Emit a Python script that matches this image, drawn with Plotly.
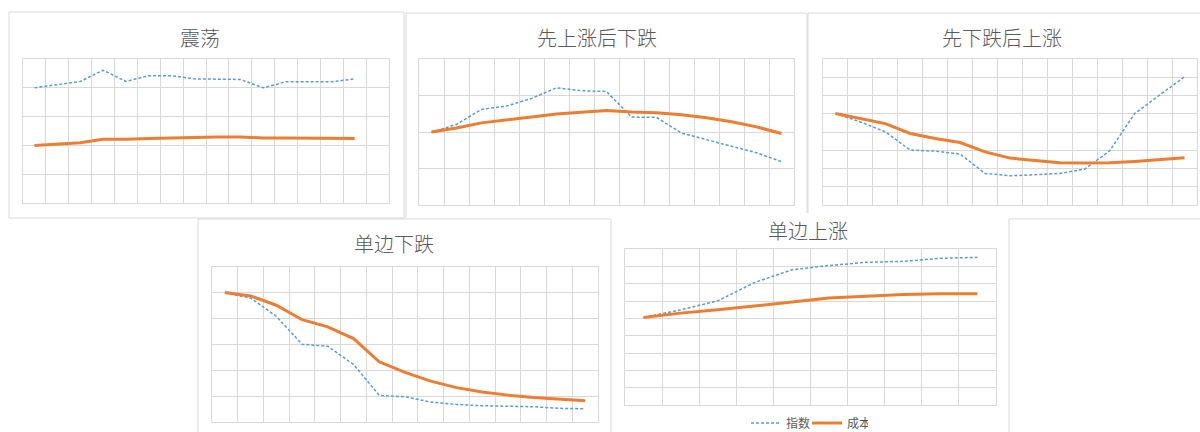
import plotly.graph_objects as go

W, H = 1200, 432

# ---------------- data (grid units) ----------------
titles = ["震荡", "先上涨后下跌", "先下跌后上涨", "单边下跌", "单边上涨"]
series_names = ["指数", "成本"]

zhendang_index = [4.00, 4.12, 4.22, 4.61, 4.22, 4.42, 4.42, 4.31, 4.29, 4.29, 4.00, 4.21, 4.21, 4.21, 4.31]
zhendang_cost = [2.00, 2.04, 2.09, 2.21, 2.21, 2.24, 2.26, 2.29, 2.29, 2.29, 2.26, 2.26, 2.25, 2.25, 2.24]

rise_fall_index = [1.99, 2.21, 2.62, 2.71, 2.92, 3.21, 3.13, 3.11, 2.41, 2.40, 1.97, 1.79, 1.62, 1.43, 1.19]
rise_fall_cost = [2.00, 2.11, 2.25, 2.34, 2.41, 2.49, 2.54, 2.59, 2.55, 2.53, 2.47, 2.39, 2.28, 2.14, 1.96]

fall_rise_index = [5.01, 4.55, 4.01, 3.01, 2.95, 2.79, 1.73, 1.60, 1.66, 1.73, 1.97, 2.97, 5.01, 6.01, 7.03]
fall_rise_cost = [5.01, 4.75, 4.46, 3.92, 3.64, 3.42, 2.91, 2.57, 2.42, 2.31, 2.30, 2.31, 2.39, 2.48, 2.59]

down_index = [4.99, 4.80, 4.09, 3.01, 2.93, 2.23, 1.03, 0.98, 0.77, 0.68, 0.63, 0.60, 0.59, 0.53, 0.51]
down_cost = [5.01, 4.88, 4.52, 3.96, 3.68, 3.23, 2.33, 1.92, 1.58, 1.33, 1.16, 1.04, 0.95, 0.88, 0.82]

up_index = [5.05, 5.49, 6.01, 7.07, 7.80, 8.05, 8.23, 8.29, 8.46, 8.52]
up_cost = [5.05, 5.30, 5.49, 5.72, 5.97, 6.17, 6.28, 6.38, 6.42, 6.42]

category_counts = [16, 15, 15, 15, 10]
y_grid_counts = [5, 4, 8, 6, 9]

# ---------------- layout helpers ----------------
def px_x(v):
    return v / W

def px_y(v):
    return 1 - v / H

# plot areas in pixels: (left, top, right, bottom)
plot_boxes = [
    (23, 59, 389, 203),
    (419, 59, 794, 205),
    (823, 59, 1197, 205),
    (212, 267, 598, 422),
    (625, 249, 996, 405),
]
title_pos = [(200, 37), (597, 37), (1002, 37), (394, 244), (808, 230)]

BLUE = "#5B9BD5"
ORANGE = "#ED7D31"
GRID = "#D9D9D9"
TEXT = "#595959"
FONT = "Noto Sans CJK SC"

data_sets = [
    (zhendang_index, zhendang_cost),
    (rise_fall_index, rise_fall_cost),
    (fall_rise_index, fall_rise_cost),
    (down_index, down_cost),
    (up_index, up_cost),
]

fig = go.Figure()
layout_axes = {}
for i, ((idx, cost), box, ncat, ngrid) in enumerate(zip(data_sets, plot_boxes, category_counts, y_grid_counts)):
    k = "" if i == 0 else str(i + 1)
    xa, ya = "x" + k, "y" + k
    cats = list(range(1, len(idx) + 1))
    last = i == 4
    fig.add_trace(go.Scatter(x=cats, y=idx, mode="lines", name=series_names[0],
                             line=dict(color=BLUE, width=1.5, dash="3px,2px"),
                             xaxis=xa, yaxis=ya, showlegend=last, legendrank=1))
    fig.add_trace(go.Scatter(x=cats, y=cost, mode="lines", name=series_names[1],
                             line=dict(color=ORANGE, width=3),
                             xaxis=xa, yaxis=ya, showlegend=last, legendrank=2))
    l, t, r, b = box
    common = dict(showgrid=True, gridcolor=GRID, gridwidth=1, zeroline=False,
                  showticklabels=False, ticks="", showline=True, mirror=True,
                  linecolor=GRID, linewidth=1, fixedrange=True)
    layout_axes["xaxis" + k] = dict(domain=[px_x(l), px_x(r)], range=[0.5, ncat + 0.5],
                                    tick0=0.5, dtick=1, anchor=ya, **common)
    layout_axes["yaxis" + k] = dict(domain=[px_y(b), px_y(t)], range=[0, ngrid],
                                    tick0=0, dtick=1, anchor=xa, **common)

fig.update_layout(**layout_axes)

annotations = []
for title, (cx, cy) in zip(titles, title_pos):
    annotations.append(dict(text=title, x=px_x(cx), y=px_y(cy), xref="paper", yref="paper",
                            xanchor="center", yanchor="middle", showarrow=False,
                            font=dict(family=FONT, size=20, color=TEXT, weight=300)))

def path(points):
    s = ""
    for j, (x, y) in enumerate(points):
        s += ("M" if j == 0 else "L") + f"{px_x(x):.5f},{px_y(y):.5f} "
    return s.strip()

frames = [
    [(9, 12), (404, 12), (404, 218), (9, 218), (9, 12)],
    [(406, 218), (406, 13), (807, 13), (807, 213)],
    [(808, 213), (808, 13), (1215, 13)],
    [(198, 445), (198, 219), (611, 219), (611, 445)],
    [(1009, 445), (1009, 219), (1215, 219)],
]
shapes = [dict(type="path", path=path(f), xref="paper", yref="paper",
               line=dict(color=GRID, width=1), layer="below") for f in frames]

fig.update_layout(
    width=W, height=H, autosize=False,
    margin=dict(l=0, r=0, t=0, b=0, autoexpand=False),
    paper_bgcolor="white", plot_bgcolor="white",
    annotations=annotations, shapes=shapes,
    showlegend=True,
    legend=dict(orientation="h", x=px_x(746), xanchor="left", y=px_y(423), yanchor="middle",
                font=dict(family=FONT, size=12, color=TEXT), bgcolor="rgba(0,0,0,0)",
                itemwidth=30, tracegroupgap=0, entrywidth=16),
    font=dict(family=FONT),
)

fig.write_html("out.html")
